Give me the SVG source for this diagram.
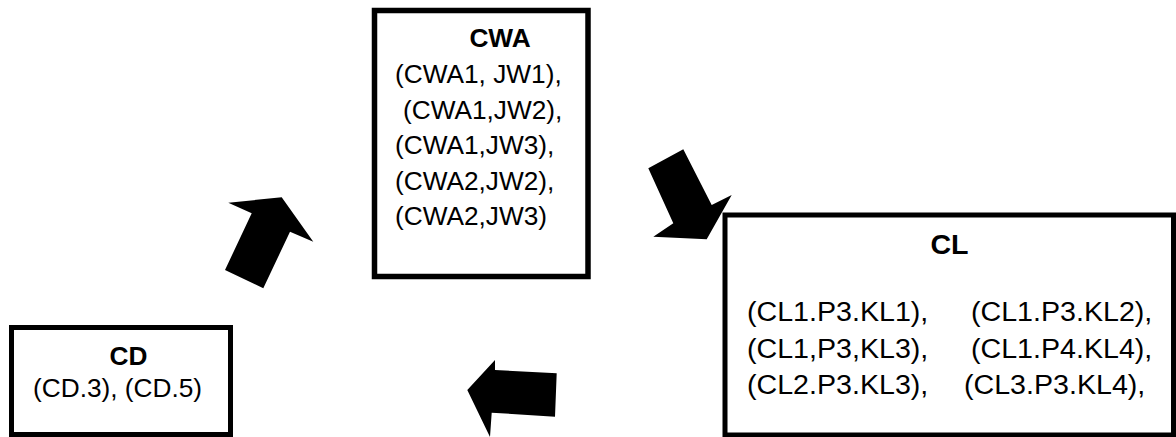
<svg xmlns="http://www.w3.org/2000/svg" width="1176" height="437" viewBox="0 0 1176 437">
<style>
.box{fill:#fff;stroke:#000;stroke-width:5}
.t{font-family:"Liberation Sans",Arial,sans-serif;fill:#000;font-size:25px}
.l{font-size:27px}
.b{font-weight:bold}
.arr{fill:#000;stroke:none}
</style>
<rect width="1176" height="437" fill="#fff"/>
<g id="CWA">
<rect class="box" x="374.5" y="10.5" width="213.5" height="266" style="stroke-width:5.5"/>
<text class="t b" transform="matrix(1.05 0 0 1 500 47)" text-anchor="middle">CWA</text>
<text class="t" transform="matrix(1.05 0 0 1 395 83)">(CWA1, JW1),</text>
<text class="t" transform="matrix(1.05 0 0 1 403 118.5)">(CWA1,JW2),</text>
<text class="t" transform="matrix(1.05 0 0 1 395 154)">(CWA1,JW3),</text>
<text class="t" transform="matrix(1.05 0 0 1 395 189.5)">(CWA2,JW2),</text>
<text class="t" transform="matrix(1.05 0 0 1 395 225)">(CWA2,JW3)</text>
</g>
<g id="CL">
<rect class="box" x="725" y="215" width="448.5" height="220"/>
<text class="t l b" transform="matrix(1.06 0 0 1 949.5 254)" text-anchor="middle">CL</text>
<text class="t l" transform="matrix(1.06 0 0 1 747 321)">(CL1.P3.KL1),</text>
<text class="t l" transform="matrix(1.06 0 0 1 971 321)">(CL1.P3.KL2),</text>
<text class="t l" transform="matrix(1.06 0 0 1 747 357.5)">(CL1,P3,KL3),</text>
<text class="t l" transform="matrix(1.06 0 0 1 971 357.5)">(CL1.P4.KL4),</text>
<text class="t l" transform="matrix(1.06 0 0 1 747 394)">(CL2.P3.KL3),</text>
<text class="t l" transform="matrix(1.06 0 0 1 964 394)">(CL3.P3.KL4),</text>
</g>
<g id="CD">
<rect class="box" x="11.5" y="327.5" width="219" height="107"/>
<text class="t b" transform="matrix(1.05 0 0 1 128.5 365)" text-anchor="middle">CD</text>
<text class="t" transform="matrix(1.05 0 0 1 33 397)">(CD.3), (CD.5)</text>
</g>
<g id="connectors">
<polygon class="arr" points="228.3,202.7 281.7,197.3 313.3,241.7 290,231.7 263.3,288.3 225,270 251.7,213.3"/>
<polygon class="arr" points="648.3,168.3 683.3,149.3 711.7,205 731.7,195 706.7,239.3 653.3,236.7 673.3,223.3"/>
<polygon class="arr" points="467.3,390 495,360 495,370 556.7,373.3 555,416.7 491.7,412.7 490,437"/>
</g>
</svg>
